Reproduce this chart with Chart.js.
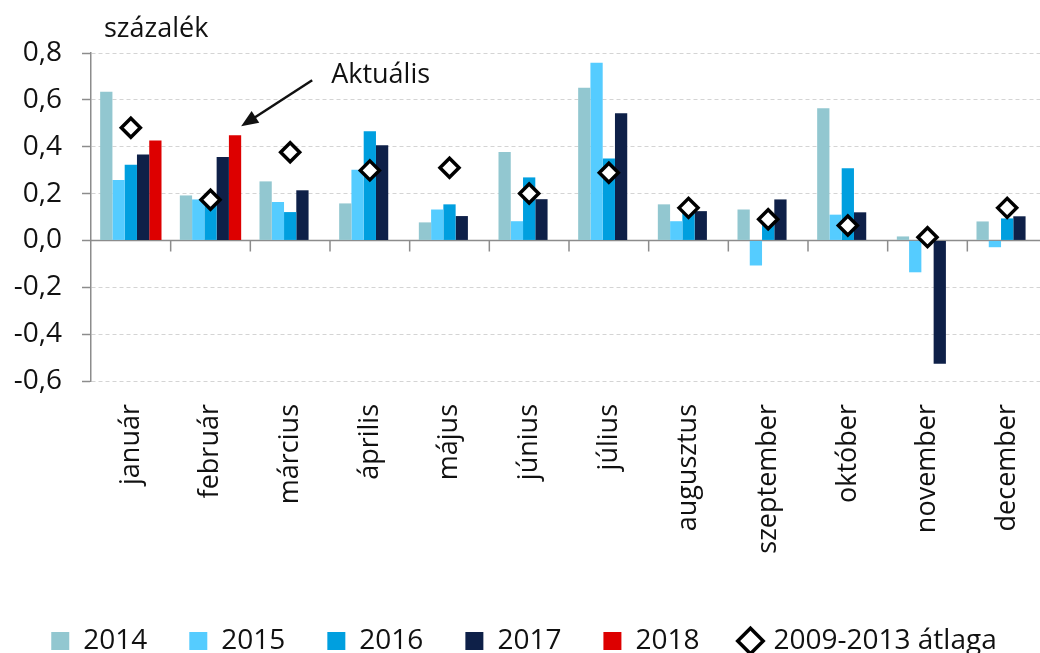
<!DOCTYPE html>
<html>
<head>
<meta charset="utf-8">
<script src="https://cdn.jsdelivr.net/npm/chart.js@4.4.1/dist/chart.umd.min.js"></script>
<style>
  html, body { margin: 0; padding: 0; background: #fff; overflow: hidden; }
  #wrap { position: relative; width: 1060px; height: 665px; }
</style>
</head>
<body>
<div id="wrap"><canvas id="chart"></canvas></div>
<script>
// Data
const months = ['január', 'február', 'március', 'április', 'május', 'június',
  'július', 'augusztus', 'szeptember', 'október', 'november', 'december'];
const v2014 = [0.635, 0.192, 0.252, 0.158, 0.077, 0.377, 0.652, 0.154, 0.132, 0.564, 0.017, 0.081];
const v2015 = [0.258, 0.175, 0.164, 0.302, 0.132, 0.082, 0.758, 0.082, -0.107, 0.110, -0.136, -0.029];
const v2016 = [0.323, 0.160, 0.121, 0.466, 0.154, 0.269, 0.350, 0.120, 0.070, 0.308, 0.010, 0.094];
const v2017 = [0.367, 0.356, 0.214, 0.406, 0.104, 0.176, 0.543, 0.125, 0.175, 0.120, -0.526, 0.103];
const v2018 = [0.427, 0.449, null, null, null, null, null, null, null, null, null, null];
const avg0913 = [0.481, 0.174, 0.376, 0.299, 0.310, 0.200, 0.289, 0.139, 0.090, 0.064, 0.014, 0.139];

const FONT = "'Open Sans', sans-serif";

// Zero line, category ticks, labels and arrow
const extras = {
    id: 'extras',
    beforeDatasetsDraw(chart) {
        const {ctx, chartArea, scales} = chart;
        const y0 = scales.y.getPixelForValue(0);
        ctx.save();
        ctx.strokeStyle = '#8c8c8c';
        ctx.lineWidth = 1.5;
        ctx.beginPath();
        ctx.moveTo(chartArea.left, y0);
        ctx.lineTo(chartArea.right, y0);
        const half = (scales.x.getPixelForValue(1) - scales.x.getPixelForValue(0)) / 2;
        for (let i = 0; i < months.length; i++) {
            const bx = scales.x.getPixelForValue(i) + half;
            ctx.moveTo(bx, y0);
            ctx.lineTo(bx, y0 + 11);
        }
        ctx.stroke();
        ctx.restore();
    },
    afterDraw(chart) {
        const {ctx, chartArea} = chart;
        ctx.save();
        ctx.fillStyle = '#111';
        ctx.font = `27px ${FONT}`;
        ctx.textAlign = 'left';
        ctx.textBaseline = 'alphabetic';
        ctx.fillText('százalék', chartArea.left + 13, chartArea.top - 16);

        // arrow pointing at the current (2018 February) bar
        const bar = chart.getDatasetMeta(4).data[1];
        const tx = bar.x + bar.width / 2, ty = bar.y - 9;
        const sx = tx + 71, sy = ty - 46;
        const ang = Math.atan2(ty - sy, tx - sx);
        ctx.strokeStyle = '#111';
        ctx.lineWidth = 2.5;
        ctx.beginPath();
        ctx.moveTo(sx, sy);
        ctx.lineTo(tx - 12 * Math.cos(ang), ty - 12 * Math.sin(ang));
        ctx.stroke();
        ctx.beginPath();
        ctx.moveTo(tx, ty);
        ctx.lineTo(tx - 17 * Math.cos(ang) + 7 * Math.sin(ang), ty - 17 * Math.sin(ang) - 7 * Math.cos(ang));
        ctx.lineTo(tx - 17 * Math.cos(ang) - 7 * Math.sin(ang), ty - 17 * Math.sin(ang) + 7 * Math.cos(ang));
        ctx.closePath();
        ctx.fill();

        ctx.textBaseline = 'middle';
        ctx.fillText('Aktuális', tx + 90, ty - 51);
        ctx.restore();
    }
};

function barSet(label, data, color) {
    return {
        type: 'bar',
        label: label,
        data: data,
        backgroundColor: color,
        borderWidth: 0,
        pointStyle: 'rect',
        order: 2,
        categoryPercentage: 0.77,
        barPercentage: 1.0
    };
}

const ctx = document.getElementById('chart').getContext('2d');
const chart = new Chart(ctx, {
    data: {
        labels: months,
        datasets: [
            barSet('2014', v2014, '#92c7d0'),
            barSet('2015', v2015, '#55ccff'),
            barSet('2016', v2016, '#009fdf'),
            barSet('2017', v2017, '#0e2048'),
            barSet('2018', v2018, '#dd0000'),
            {
                type: 'line',
                label: '2009-2013 átlaga',
                data: avg0913,
                showLine: false,
                pointStyle: 'rectRot',
                pointRadius: 9.5,
                pointHoverRadius: 9.5,
                pointBorderWidth: 3.5,
                pointBackgroundColor: '#fff',
                pointBorderColor: '#000',
                backgroundColor: '#fff',
                borderColor: '#000',
                borderWidth: 3,
                order: 1
            }
        ]
    },
    options: {
        responsive: true,
        maintainAspectRatio: false,
        animation: false,
        layout: { padding: { top: 53, left: 0, right: 12, bottom: 0 } },
        plugins: {
            legend: {
                position: 'bottom',
                labels: {
                    usePointStyle: true,
                    boxHeight: 18,
                    boxWidth: 18,
                    padding: 42,
                    color: '#111',
                    font: { family: FONT, size: 28 },
                    sort: (a, b) => a.datasetIndex - b.datasetIndex
                }
            },
            tooltip: { enabled: false }
        },
        scales: {
            x: {
                grid: { display: false },
                border: { display: false },
                ticks: {
                    color: '#111',
                    font: { family: FONT, size: 27 },
                    minRotation: 90,
                    maxRotation: 90,
                    padding: 15,
                    autoSkip: false
                },
                afterFit: (scale) => { scale.height = 204; }
            },
            y: {
                min: -0.6,
                max: 0.8,
                ticks: {
                    stepSize: 0.2,
                    color: '#111',
                    font: { family: FONT, size: 28 },
                    padding: 20,
                    callback: (v) => v.toFixed(1).replace('.', ',')
                },
                grid: {
                    color: '#d4d4d4',
                    lineWidth: 1,
                    tickLength: 9,
                    tickColor: '#8c8c8c',
                    tickWidth: 1.5
                },
                border: { display: true, color: '#8c8c8c', width: 1.5, dash: [4, 3] },
                afterFit: (scale) => { scale.width = 91; }
            }
        }
    },
    plugins: [extras]
});
</script>
</body>
</html>
